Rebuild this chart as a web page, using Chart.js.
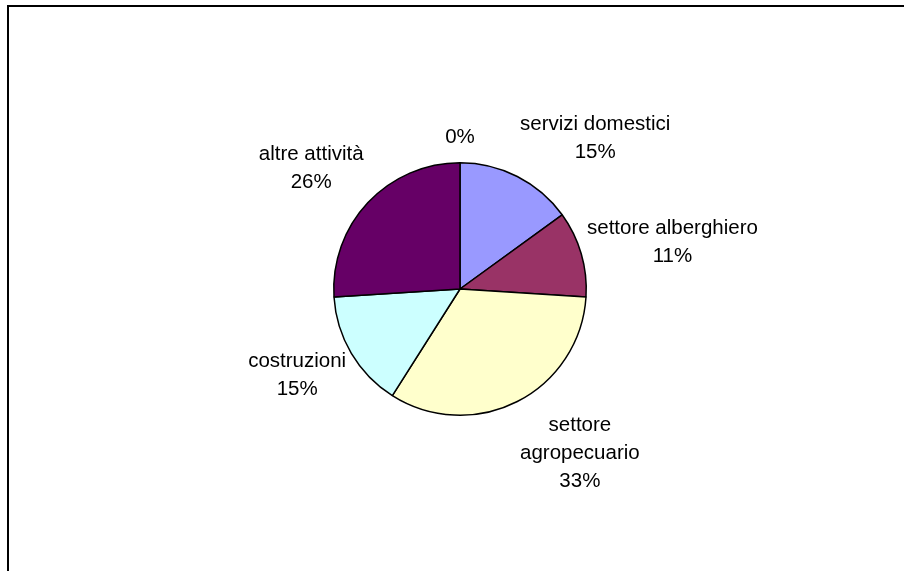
<!DOCTYPE html>
<html lang="it">
<head>
    <meta charset="UTF-8">
    <title>Occupazione per settore</title>
    <script src="https://cdn.jsdelivr.net/npm/chart.js"></script>
    <style>
        html, body {
            margin: 0;
            padding: 0;
            background: #ffffff;
        }
        canvas {
            display: block;
        }
    </style>
</head>
<body>
    <canvas id="sectorChart" width="904" height="571"></canvas>

    <script>
        // sectors, in drawing order (clockwise from the top)
        const sectors = ['servizi domestici', 'settore alberghiero', 'settore agropecuario', 'costruzioni', 'altre attività', ''];
        const shares = [15, 11, 33, 15, 26, 0];
        const sliceColors = ['#9999FF', '#993366', '#FFFFCC', '#CCFFFF', '#660066', '#FF8080'];

        const LABEL_FONT = '20.5px "Liberation Sans", Arial, sans-serif';
        const LINE_HEIGHT = 28;
        const WRAP_WIDTH = 180;
        const GAP_X = 6;   // label distance from the rim, sideways
        const GAP_Y = 11;  // and above / below

        // thin frame along the top and left edge
        const frame = {
            id: 'frame',
            beforeDraw(chart) {
                const ctx = chart.ctx;
                ctx.save();
                ctx.fillStyle = '#ffffff';
                ctx.fillRect(0, 0, chart.width, chart.height);
                ctx.fillStyle = '#000000';
                ctx.fillRect(7, 5, chart.width - 7, 2);
                ctx.fillRect(7, 5, 2, chart.height - 5);
                ctx.restore();
            }
        };

        function wrapText(ctx, text) {
            if (!text) return [];
            const words = text.split(' ');
            const lines = [];
            let line = '';
            words.forEach(word => {
                const test = line ? line + ' ' + word : word;
                if (line && ctx.measureText(test).width > WRAP_WIDTH) {
                    lines.push(line);
                    line = word;
                } else {
                    line = test;
                }
            });
            if (line) lines.push(line);
            return lines;
        }

        // category name + percentage placed just outside each slice
        const outsideLabels = {
            id: 'outsideLabels',
            afterDatasetsDraw(chart) {
                const ctx = chart.ctx;
                const meta = chart.getDatasetMeta(0);
                const values = chart.data.datasets[0].data;
                const total = values.reduce((a, b) => a + b, 0);

                ctx.save();
                ctx.font = LABEL_FONT;
                ctx.fillStyle = '#000000';
                ctx.textAlign = 'center';
                ctx.textBaseline = 'middle';

                meta.data.forEach((arc, i) => {
                    const p = arc.getProps(['x', 'y', 'startAngle', 'endAngle', 'outerRadius'], true);
                    const mid = (p.startAngle + p.endAngle) / 2;
                    const dx = Math.cos(mid);
                    const dy = Math.sin(mid);
                    const ax = p.x + dx * (p.outerRadius + GAP_X);
                    const ay = p.y + dy * (p.outerRadius + GAP_Y);

                    const lines = wrapText(ctx, chart.data.labels[i]);
                    lines.push(Math.round(values[i] / total * 100) + '%');
                    const w = Math.max(...lines.map(t => ctx.measureText(t).width));
                    const h = lines.length * LINE_HEIGHT;

                    let fx, fy;
                    if (Math.abs(dx) >= Math.abs(dy)) {
                        fx = Math.sign(dx);
                        fy = dy / Math.abs(dx);
                    } else {
                        fy = Math.sign(dy);
                        fx = Math.max(-1, Math.min(1, 2 * dx / Math.abs(dy)));
                    }
                    const cx = ax + fx * w / 2;
                    const cy = ay + fy * h / 2;

                    lines.forEach((t, k) => {
                        ctx.fillText(t, cx, cy - h / 2 + LINE_HEIGHT / 2 + k * LINE_HEIGHT);
                    });
                });
                ctx.restore();
            }
        };

        new Chart(document.getElementById('sectorChart'), {
            type: 'pie',
            data: {
                labels: sectors,
                datasets: [{
                    data: shares,
                    backgroundColor: sliceColors,
                    borderColor: '#000000',
                    borderWidth: 1.5
                }]
            },
            options: {
                responsive: false,
                animation: false,
                layout: {
                    padding: { top: 162, bottom: 155, left: 333, right: 317 }
                },
                plugins: {
                    legend: { display: false },
                    tooltip: { enabled: false }
                }
            },
            plugins: [frame, outsideLabels]
        });
    </script>
</body>
</html>
